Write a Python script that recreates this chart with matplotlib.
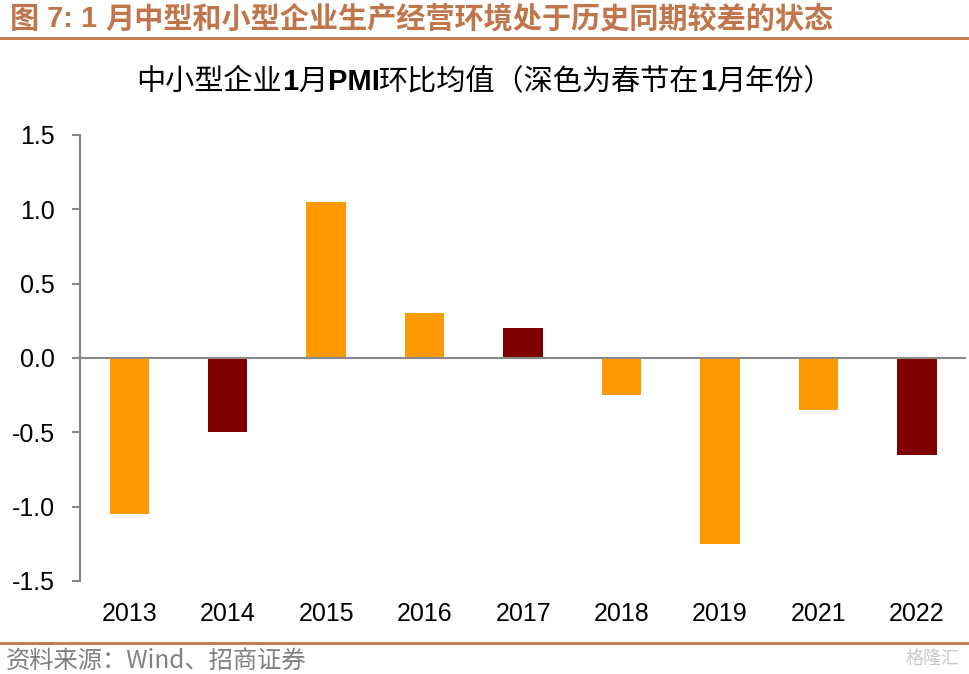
import matplotlib
matplotlib.use("Agg")
import matplotlib.pyplot as plt
from matplotlib.lines import Line2D

plt.rcParams['font.family'] = ['Noto Sans CJK SC', 'DejaVu Sans']

# data
years = ["2013", "2014", "2015", "2016", "2017", "2018", "2019", "2021", "2022"]
values = [-1.05, -0.50, 1.05, 0.30, 0.20, -0.25, -1.25, -0.35, -0.65]
spring_in_jan = [False, True, False, False, True, False, False, False, True]

light_col = "#FF9900"
dark_col = "#800000"
brown = "#C0764A"
latin = ["Liberation Sans", "DejaVu Sans"]

fig = plt.figure(figsize=(9.69, 6.74), dpi=100)
renderer = fig.canvas.get_renderer()


def pieces_text(parts, x0, y, size, color, align="left"):
    # draw a run of text pieces (text, family, weight) one after another
    objs = []
    for txt, fam, wt in parts:
        t = fig.text(0, y, txt, family=fam, fontweight=wt, fontsize=size,
                     color=color, va="center", ha="left")
        objs.append(t)
    widths = [t.get_window_extent(renderer).width / fig.bbox.width for t in objs]
    total = sum(widths)
    x = x0 - total / 2 if align == "center" else x0
    for t, w in zip(objs, widths):
        t.set_x(x)
        x += w


cjk = ['Noto Sans CJK SC', 'DejaVu Sans']

# header / footer
pieces_text([("图", cjk, "bold"), (" 7: 1 ", latin, "bold"),
             ("月中型和小型企业生产经营环境处于历史同期较差的状态", cjk, "bold")],
            0.010, 0.972, 21, brown)
fig.add_artist(Line2D([0, 1], [0.944, 0.944], color=brown, lw=2))
fig.add_artist(Line2D([0, 1], [0.046, 0.046], color=brown, lw=2))
fig.text(0.006, 0.020, "资料来源：Wind、招商证券", color="#808080",
         fontsize=17.5, va="center", ha="left")
fig.text(0.99, 0.022, "格隆汇", color="#C8C8C8", fontsize=13,
         va="center", ha="right")

# chart title with bold latin pieces
pieces_text([("中小型企业", cjk, "normal"), ("1", latin, "bold"),
             ("月", cjk, "normal"), ("PMI", latin, "bold"),
             ("环比均值（深色为春节在", cjk, "normal"), ("1", latin, "bold"),
             ("月年份）", cjk, "normal")],
            0.5, 0.878, 21, "black", align="center")

ax = fig.add_axes([0.0826, 0.138, 0.9144, 0.662])
x = list(range(len(years)))
colors = [dark_col if s else light_col for s in spring_in_jan]
ax.bar(x, values, width=0.4, color=colors, zorder=2)

ax.set_xlim(-0.5, len(years) - 0.5)
ax.set_ylim(-1.5, 1.5)
ax.set_yticks([-1.5, -1.0, -0.5, 0.0, 0.5, 1.0, 1.5])
ax.set_yticklabels(["-1.5", "-1.0", "-0.5", "0.0", "0.5", "1.0", "1.5"])
ax.set_xticks(x)
ax.set_xticklabels(years)

for s in ["top", "right", "bottom"]:
    ax.spines[s].set_visible(False)
ax.spines["left"].set_color("#888888")
ax.spines["left"].set_linewidth(1.5)
ax.axhline(0, color="#888888", lw=1.5, zorder=3)

ax.tick_params(axis="y", length=6, width=1.5, color="#888888",
               labelsize=18, pad=12, labelcolor="black")
ax.tick_params(axis="x", length=0, labelsize=18, pad=15, labelcolor="black")
for lbl in ax.get_xticklabels() + ax.get_yticklabels():
    lbl.set_family(latin)

fig.savefig("out.png", dpi=100)
